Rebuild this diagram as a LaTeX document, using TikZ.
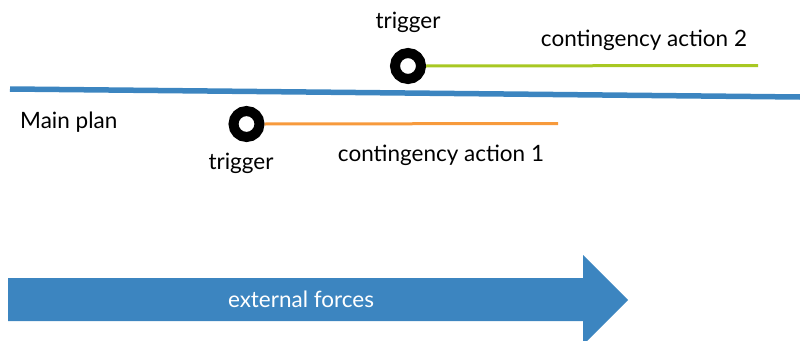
\documentclass[tikz,border=0pt]{standalone}
\usepackage{fontspec}
\setmainfont{Lato}
\definecolor{planblue}{HTML}{3C85C0}
\definecolor{actorange}{HTML}{F79A3C}
\definecolor{actgreen}{HTML}{A8C823}
\begin{document}
\begin{tikzpicture}[x=1pt,y=-1pt,
  ring/.style={circle,draw=black,line width=10pt,fill=white,minimum size=26pt,inner sep=0pt},
  lbl/.style={font=\fontsize{22.5}{26}\selectfont,inner sep=0pt,text=black},
  act/.style={line width=3pt}]
\useasboundingbox (0,0) rectangle (800,340);
% main plan line
\coordinate (mpL) at (10,89);
\coordinate (mpR) at (800,97);
\draw[planblue,line width=5.5pt] (mpL) -- (mpR);
\node[lbl,anchor=west] (main) at (20,122) {Main plan};
% contingency 1
\coordinate (e1) at (558,123.5);
\node[ring] (t1) at (246.5,124) {};
\draw[act,actorange] (t1.east) -- (e1);
\node[lbl] (tl1) at (241,163) {trigger};
\node[lbl] (c1) at (441,155) {contingency action 1};
% contingency 2
\coordinate (e2) at (758,65.5);
\node[ring] (t2) at (408,66) {};
\draw[act,actgreen] (t2.east) -- (e2);
\node[lbl] (tl2) at (408,22) {trigger};
\node[lbl] (c2) at (644,40) {contingency action 2};
% external forces arrow
\fill[planblue] (8,278) -- (583,278) -- (583,255) -- (628,300) -- (583,345) -- (583,321) -- (8,321) -- cycle;
\node[lbl,text=white] (ext) at (301,299) {external forces};
\end{tikzpicture}
\end{document}
